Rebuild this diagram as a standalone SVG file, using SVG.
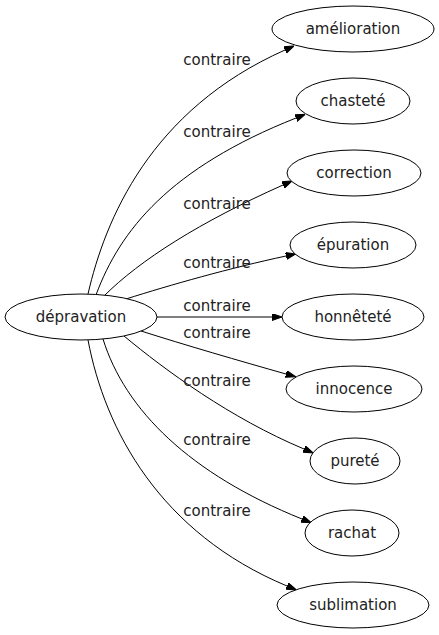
<svg xmlns="http://www.w3.org/2000/svg" width="439" height="635" viewBox="0 0 439 635">
<style>
  .node ellipse { fill: #ffffff; stroke: #000000; stroke-width: 1; }
  .node text { font-family: "DejaVu Sans", sans-serif; font-size: 15px; fill: #222222; text-anchor: middle; }
  .edge path { fill: none; stroke: #000000; stroke-width: 1; }
  .elabel { font-family: "DejaVu Sans", sans-serif; font-size: 15px; fill: #222222; text-anchor: middle; }
</style>
<defs>
  <marker id="arrow" markerUnits="userSpaceOnUse" markerWidth="10" markerHeight="8" refX="0" refY="3.5" orient="auto">
    <path d="M0,0 L10,3.5 L0,7 z" fill="#000000" stroke="#000000" stroke-width="1"/>
  </marker>
</defs>
<rect width="439" height="635" fill="#ffffff"/>
<g id="connectors">
  <g class="edge"><path d="M88,294 C105,220 150,110 285,50" marker-end="url(#arrow)"/></g>
  <g class="edge"><path d="M96,295 C120,230 170,168 296,118" marker-end="url(#arrow)"/></g>
  <g class="edge"><path d="M104,296 C140,260 200,222 283,185" marker-end="url(#arrow)"/></g>
  <g class="edge"><path d="M126,299 C170,285 230,268 286,256" marker-end="url(#arrow)"/></g>
  <g class="edge"><path d="M157,317 L272,317" marker-end="url(#arrow)"/></g>
  <g class="edge"><path d="M141,331 C185,345 240,361 286,374" marker-end="url(#arrow)"/></g>
  <g class="edge"><path d="M124,336 C165,370 230,418 304,449" marker-end="url(#arrow)"/></g>
  <g class="edge"><path d="M103,339 C125,410 190,474 302,519" marker-end="url(#arrow)"/></g>
  <g class="edge"><path d="M88,340 C105,430 160,533 287,586" marker-end="url(#arrow)"/></g>
  <text class="elabel" x="217" y="65">contraire</text>
  <text class="elabel" x="217" y="137">contraire</text>
  <text class="elabel" x="217" y="209">contraire</text>
  <text class="elabel" x="217" y="268">contraire</text>
  <text class="elabel" x="217" y="311">contraire</text>
  <text class="elabel" x="217" y="338">contraire</text>
  <text class="elabel" x="217" y="386">contraire</text>
  <text class="elabel" x="217" y="445">contraire</text>
  <text class="elabel" x="217" y="516">contraire</text>
</g>
<g id="depravation" class="node"><ellipse cx="81" cy="317" rx="76" ry="23"/><text x="81" y="322">dépravation</text></g>
<g id="amelioration" class="node"><ellipse cx="353" cy="29" rx="81" ry="23"/><text x="353" y="34">amélioration</text></g>
<g id="chastete" class="node"><ellipse cx="353" cy="101" rx="57" ry="23"/><text x="353" y="106">chasteté</text></g>
<g id="correction" class="node"><ellipse cx="354" cy="173" rx="67" ry="23"/><text x="354" y="178">correction</text></g>
<g id="epuration" class="node"><ellipse cx="353" cy="245" rx="63" ry="23"/><text x="353" y="250">épuration</text></g>
<g id="honnetete" class="node"><ellipse cx="353" cy="317" rx="71" ry="23"/><text x="353" y="322">honnêteté</text></g>
<g id="innocence" class="node"><ellipse cx="354" cy="389" rx="68" ry="23"/><text x="354" y="394">innocence</text></g>
<g id="purete" class="node"><ellipse cx="355" cy="461" rx="45" ry="23"/><text x="355" y="466">pureté</text></g>
<g id="rachat" class="node"><ellipse cx="352" cy="533" rx="47" ry="23"/><text x="352" y="538">rachat</text></g>
<g id="sublimation" class="node"><ellipse cx="353" cy="605" rx="76" ry="23"/><text x="353" y="610">sublimation</text></g>
</svg>
